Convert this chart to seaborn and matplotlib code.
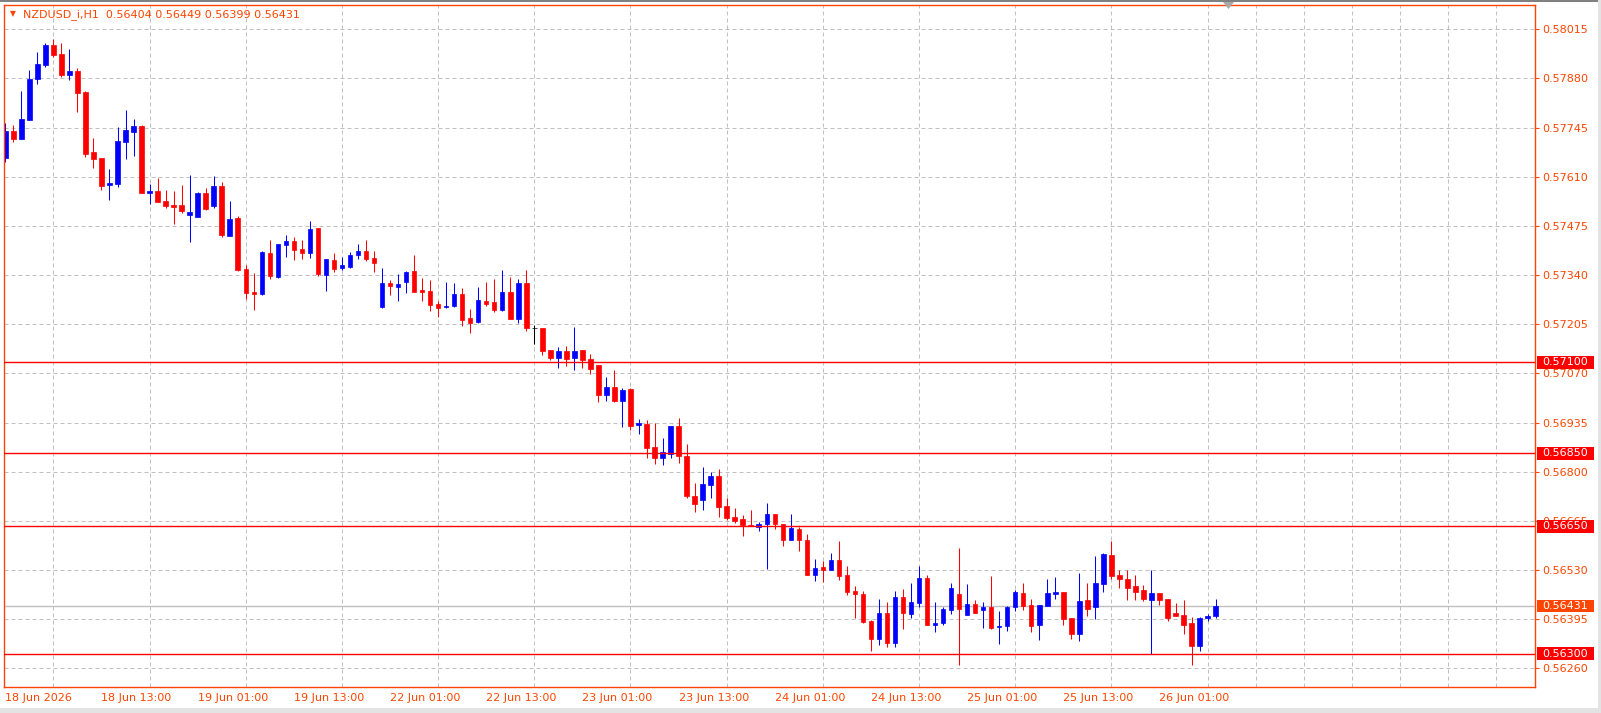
import numpy as np
import pandas as pd
import matplotlib
matplotlib.use('Agg')
import matplotlib.pyplot as plt
import matplotlib.transforms as mtransforms
from matplotlib.patches import Rectangle, Polygon
import seaborn as sns

# ─── Data (NZDUSD_i, H1) ─────────────────────────────────────────────────────
symbol = 'NZDUSD_i,H1'

opens = [
    0.57661, 0.57736, 0.57715, 0.57767, 0.57879, 0.57918, 0.57972, 0.57947, 0.57890, 0.57901,
    0.57843, 0.57678, 0.57661, 0.57588, 0.57591, 0.57706, 0.57734, 0.57749, 0.57565, 0.57571,
    0.57543, 0.57532, 0.57532, 0.57506, 0.57500, 0.57565, 0.57530, 0.57585, 0.57448, 0.57497,
    0.57357, 0.57294, 0.57289, 0.57401, 0.57335, 0.57423, 0.57434, 0.57412, 0.57401, 0.57469,
    0.57341, 0.57381, 0.57360, 0.57363, 0.57396, 0.57406, 0.57387, 0.57253, 0.57318, 0.57308,
    0.57322, 0.57351, 0.57299, 0.57296, 0.57261, 0.57251, 0.57256, 0.57288, 0.57222, 0.57212,
    0.57269, 0.57266, 0.57245, 0.57294, 0.57220, 0.57318, 0.57195, 0.57194, 0.57135, 0.57113,
    0.57131, 0.57113, 0.57134, 0.57110, 0.57093, 0.57011, 0.57033, 0.56994, 0.57027, 0.56928,
    0.56931, 0.56868, 0.56838, 0.56849, 0.56925, 0.56843, 0.56733, 0.56722, 0.56764, 0.56788,
    0.56706, 0.56676, 0.56670, 0.56654, 0.56649, 0.56657, 0.56684, 0.56657, 0.56613, 0.56643,
    0.56613, 0.56517, 0.56539, 0.56531, 0.56558, 0.56516, 0.56472, 0.56464, 0.56391, 0.56341,
    0.56412, 0.56330, 0.56456, 0.56410, 0.56440, 0.56508, 0.56380, 0.56385, 0.56421, 0.56464,
    0.56407, 0.56436, 0.56421, 0.56428, 0.56374, 0.56377, 0.56429, 0.56467, 0.56434, 0.56380,
    0.56432, 0.56464, 0.56469, 0.56398, 0.56355, 0.56447, 0.56429, 0.56492, 0.56571, 0.56516,
    0.56505, 0.56486, 0.56475, 0.56448, 0.56467, 0.56450, 0.56412, 0.56406, 0.56384, 0.56322,
    0.56398, 0.56404,
]
highs = [
    0.57757, 0.57752, 0.57846, 0.57903, 0.57952, 0.57977, 0.57988, 0.57977, 0.57961, 0.57909,
    0.57846, 0.57716, 0.57661, 0.57631, 0.57747, 0.57793, 0.57769, 0.57752, 0.57589, 0.57607,
    0.57574, 0.57571, 0.57587, 0.57615, 0.57568, 0.57579, 0.57612, 0.57596, 0.57543, 0.57502,
    0.57368, 0.57346, 0.57406, 0.57436, 0.57425, 0.57450, 0.57445, 0.57436, 0.57488, 0.57469,
    0.57384, 0.57401, 0.57390, 0.57403, 0.57425, 0.57436, 0.57406, 0.57359, 0.57327, 0.57343,
    0.57351, 0.57395, 0.57332, 0.57327, 0.57269, 0.57321, 0.57318, 0.57305, 0.57247, 0.57307,
    0.57321, 0.57329, 0.57354, 0.57335, 0.57329, 0.57354, 0.57203, 0.57195, 0.57135, 0.57143,
    0.57145, 0.57197, 0.57134, 0.57124, 0.57093, 0.57060, 0.57079, 0.57030, 0.57030, 0.56945,
    0.56942, 0.56934, 0.56893, 0.56925, 0.56947, 0.56876, 0.56770, 0.56814, 0.56799, 0.56807,
    0.56728, 0.56700, 0.56681, 0.56695, 0.56662, 0.56714, 0.56684, 0.56657, 0.56685, 0.56649,
    0.56630, 0.56561, 0.56555, 0.56577, 0.56610, 0.56541, 0.56486, 0.56472, 0.56393, 0.56450,
    0.56442, 0.56472, 0.56478, 0.56494, 0.56541, 0.56516, 0.56442, 0.56428, 0.56494, 0.56590,
    0.56491, 0.56447, 0.56442, 0.56513, 0.56418, 0.56431, 0.56475, 0.56494, 0.56450, 0.56434,
    0.56505, 0.56511, 0.56469, 0.56398, 0.56522, 0.56494, 0.56568, 0.56577, 0.56610, 0.56530,
    0.56530, 0.56516, 0.56489, 0.56530, 0.56467, 0.56450, 0.56439, 0.56447, 0.56401, 0.56401,
    0.56410, 0.56449,
]
lows = [
    0.57651, 0.57706, 0.57715, 0.57766, 0.57866, 0.57912, 0.57940, 0.57885, 0.57876, 0.57789,
    0.57665, 0.57635, 0.57574, 0.57547, 0.57583, 0.57660, 0.57668, 0.57565, 0.57536, 0.57541,
    0.57525, 0.57481, 0.57511, 0.57432, 0.57500, 0.57519, 0.57525, 0.57445, 0.57448, 0.57351,
    0.57275, 0.57244, 0.57286, 0.57330, 0.57333, 0.57390, 0.57381, 0.57384, 0.57388, 0.57337,
    0.57297, 0.57349, 0.57355, 0.57360, 0.57385, 0.57380, 0.57349, 0.57250, 0.57286, 0.57270,
    0.57292, 0.57294, 0.57269, 0.57242, 0.57226, 0.57250, 0.57253, 0.57201, 0.57182, 0.57209,
    0.57256, 0.57239, 0.57242, 0.57220, 0.57209, 0.57187, 0.57151, 0.57121, 0.57108, 0.57085,
    0.57090, 0.57079, 0.57086, 0.57068, 0.56992, 0.56994, 0.56991, 0.56924, 0.56915, 0.56904,
    0.56838, 0.56821, 0.56818, 0.56838, 0.56824, 0.56728, 0.56690, 0.56695, 0.56729, 0.56676,
    0.56667, 0.56660, 0.56624, 0.56652, 0.56638, 0.56533, 0.56643, 0.56597, 0.56613, 0.56583,
    0.56517, 0.56501, 0.56498, 0.56530, 0.56503, 0.56462, 0.56398, 0.56385, 0.56308, 0.56325,
    0.56319, 0.56319, 0.56369, 0.56399, 0.56429, 0.56380, 0.56360, 0.56380, 0.56410, 0.56269,
    0.56407, 0.56413, 0.56371, 0.56369, 0.56327, 0.56363, 0.56418, 0.56421, 0.56360, 0.56338,
    0.56432, 0.56451, 0.56380, 0.56341, 0.56336, 0.56404, 0.56396, 0.56470, 0.56506, 0.56481,
    0.56448, 0.56448, 0.56446, 0.56300, 0.56435, 0.56391, 0.56404, 0.56355, 0.56270, 0.56308,
    0.56390, 0.56399,
]
closes = [
    0.57736, 0.57715, 0.57768, 0.57878, 0.57919, 0.57972, 0.57945, 0.57890, 0.57901, 0.57841,
    0.57673, 0.57660, 0.57585, 0.57593, 0.57708, 0.57738, 0.57749, 0.57566, 0.57571, 0.57541,
    0.57530, 0.57528, 0.57516, 0.57513, 0.57566, 0.57521, 0.57585, 0.57451, 0.57494, 0.57354,
    0.57292, 0.57289, 0.57403, 0.57338, 0.57425, 0.57434, 0.57409, 0.57401, 0.57467, 0.57344,
    0.57384, 0.57358, 0.57368, 0.57395, 0.57406, 0.57385, 0.57374, 0.57318, 0.57311, 0.57315,
    0.57348, 0.57294, 0.57294, 0.57259, 0.57250, 0.57255, 0.57288, 0.57217, 0.57209, 0.57272,
    0.57261, 0.57245, 0.57294, 0.57220, 0.57318, 0.57195, 0.57195, 0.57132, 0.57113, 0.57131,
    0.57110, 0.57131, 0.57107, 0.57083, 0.57011, 0.57033, 0.56994, 0.57024, 0.56925, 0.56934,
    0.56865, 0.56838, 0.56854, 0.56925, 0.56843, 0.56733, 0.56710, 0.56766, 0.56788, 0.56704,
    0.56674, 0.56665, 0.56654, 0.56652, 0.56656, 0.56684, 0.56657, 0.56613, 0.56646, 0.56613,
    0.56517, 0.56536, 0.56531, 0.56558, 0.56514, 0.56470, 0.56465, 0.56388, 0.56341, 0.56412,
    0.56330, 0.56456, 0.56413, 0.56442, 0.56508, 0.56380, 0.56384, 0.56423, 0.56480, 0.56424,
    0.56436, 0.56413, 0.56428, 0.56371, 0.56377, 0.56428, 0.56469, 0.56432, 0.56377, 0.56434,
    0.56467, 0.56469, 0.56395, 0.56355, 0.56445, 0.56424, 0.56494, 0.56574, 0.56514, 0.56506,
    0.56481, 0.56470, 0.56451, 0.56467, 0.56448, 0.56399, 0.56404, 0.56380, 0.56322, 0.56398,
    0.56404, 0.56431,
]

time_labels = ['18 Jun 2026', '18 Jun 13:00', '19 Jun 01:00', '19 Jun 13:00', '22 Jun 01:00',
               '22 Jun 13:00', '23 Jun 01:00', '23 Jun 13:00', '24 Jun 01:00', '24 Jun 13:00',
               '25 Jun 01:00', '25 Jun 13:00', '26 Jun 01:00']
price_ticks = [0.58015, 0.57880, 0.57745, 0.57610, 0.57475, 0.57340, 0.57205,
               0.57070, 0.56935, 0.56800, 0.56665, 0.56530, 0.56395, 0.56260]
level_lines = [0.57100, 0.56850, 0.56650, 0.56300]
bid_price = closes[-1]

# ─── Style ───────────────────────────────────────────────────────────────────
sns.set_style('white')
plt.rcParams['font.family'] = ['DejaVu Sans']

FG = '#FF4500'
BULL = '#0000FF'
BEAR = '#FF0000'
GRID = '#C0C0C0'

df = pd.DataFrame({'open': opens, 'high': highs, 'low': lows, 'close': closes})
df['bar'] = np.arange(len(df))
df['color'] = np.where(df['close'] > df['open'], BULL,
                       np.where(df['close'] < df['open'], BEAR, 'black'))
df['body_lo'] = df[['open', 'close']].min(axis=1)
df['body_h'] = (df['close'] - df['open']).abs()

fig = plt.figure(figsize=(16.01, 7.13), dpi=100)
ax = fig.add_axes([4.3 / 1601, 26.3 / 713, 1530.7 / 1601, 682 / 713])

# grid
ax.set_axisbelow(True)
ax.set_xticks(np.arange(0, 187, 6), minor=True)
ax.grid(which='minor', axis='x', color=GRID, lw=0.72, linestyle=(0, (4, 3)))
ax.grid(which='major', axis='y', color=GRID, lw=0.72, linestyle=(0, (4, 3)))
ax.grid(which='major', axis='x', visible=False)

# bid line behind candles
ax.axhline(bid_price, color=GRID, lw=1.0, zorder=1)

# candles
ax.vlines(df['bar'], df['low'], df['high'], colors=df['color'], lw=0.75, zorder=2)
ax.bar(df['bar'], df['body_h'], bottom=df['body_lo'], width=0.56,
       color=df['color'], edgecolor=df['color'], linewidth=0.5, zorder=2.2)

# horizontal levels
for lv in level_lines:
    ax.axhline(lv, color=BEAR, lw=1.0, zorder=3)

ax.set_xlim(-0.125, 190.85)
ax.set_ylim(0.562094, 0.580826)

# y axis on the right
ax.yaxis.tick_right()
ax.set_yticks(price_ticks)
ax.set_yticklabels([f'{p:.5f}' for p in price_ticks])
ax.tick_params(axis='y', which='major', colors=FG, length=3, width=0.8, pad=2,
               labelsize=8, right=True, left=False)

# x axis
ax.set_xticks(np.arange(0, 12 * len(time_labels), 12))
ax.set_xticklabels(time_labels)
for lbl in ax.get_xticklabels():
    lbl.set_ha('left')
ax.tick_params(axis='x', which='major', colors=FG, length=3, width=0.8, pad=1.5,
               labelsize=8)
ax.tick_params(axis='x', which='minor', length=0)

for sp in ax.spines.values():
    sp.set_color(FG)
    sp.set_linewidth(1.0)
    sp.set_visible(True)

# price labels for level lines and bid
trans = mtransforms.blended_transform_factory(ax.transAxes, ax.transData)
box_x = (1537 - 4.3) / 1530.7
box_w = 57 / 1530.7
half_h = 6.3 * (0.580826 - 0.562094) / 682
for lv, fc in [(l, BEAR) for l in level_lines] + [(bid_price, FG)]:
    ax.add_patch(Rectangle((box_x, lv - half_h), box_w, 2 * half_h, transform=trans,
                           facecolor=fc, edgecolor='none', clip_on=False, zorder=5))
    ax.text(box_x + box_w / 2, lv, f'{lv:.5f}', transform=trans, color='white',
            fontsize=8, ha='center', va='center', clip_on=False, zorder=6)

# chart shift marker at top edge
fig.add_artist(Polygon([(1223 / 1601, 1 - 2 / 713), (1234 / 1601, 1 - 2 / 713),
                        (1228.5 / 1601, 1 - 9 / 713)], closed=True, transform=fig.transFigure,
                       facecolor='#A8A8A8', edgecolor='none', zorder=10))

# header
last = df.iloc[-1]
fig.text(13 / 1601, 1 - 14 / 713, '\u25BC', color=FG, fontsize=5.5, ha='center', va='center')
fig.text(23 / 1601, 1 - 14.5 / 713,
         f"{symbol}  {last['open']:.5f} {last['high']:.5f} {last['low']:.5f} {last['close']:.5f}",
         color=FG, fontsize=8, ha='left', va='center')

# outer window frame
fig.add_artist(Rectangle((0, 1 - 1.5 / 713), 1, 1.5 / 713, transform=fig.transFigure,
                         facecolor='#808080', edgecolor='none'))
fig.add_artist(Rectangle((0, 0), 1, 5 / 713, transform=fig.transFigure,
                         facecolor='#E3E3E3', edgecolor='none'))
fig.add_artist(Rectangle((1 - 3 / 1601, 0), 3 / 1601, 1, transform=fig.transFigure,
                         facecolor='#E3E3E3', edgecolor='none'))

fig.savefig('out.png', dpi=100, facecolor='white')
